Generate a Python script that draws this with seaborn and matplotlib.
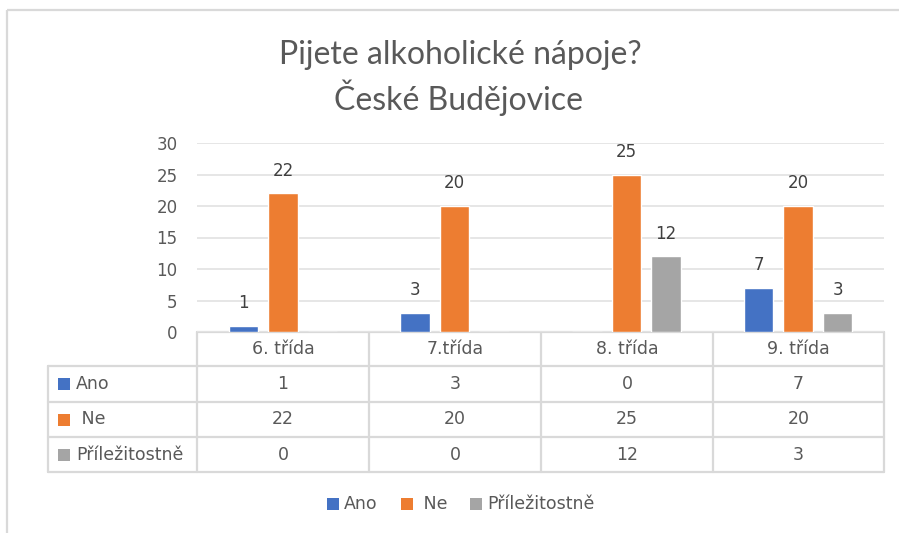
import matplotlib
matplotlib.use("Agg")
import matplotlib.pyplot as plt
import seaborn as sns
import pandas as pd
from matplotlib.patches import Rectangle

# ---- data ----
categories = ["6. třída", "7.třída", "8. třída", "9. třída"]
series_names = ["Ano", "Ne", "Příležitostně"]
series_labels = ["Ano", " Ne", "Příležitostně"]
ano = [1, 3, 0, 7]
ne = [22, 20, 25, 20]
prilezitostne = [0, 0, 12, 3]
yticks = [0, 5, 10, 15, 20, 25, 30]
title_lines = ["Pijete alkoholické nápoje?", "České Budějovice"]

colors = ["#4472C4", "#ED7D31", "#A5A5A5"]
GRID = "#D9D9D9"
GRID_LIGHT = "#E4E4E4"
TXT = "#595959"
LBL = "#404040"
TITLEF = ['Lato', 'DejaVu Sans']

sns.set_theme(style="white")
plt.rcParams['font.family'] = ['DejaVu Sans']

W, H = 899, 533
fig = plt.figure(figsize=(W / 100, H / 100), dpi=100)
fig.patch.set_facecolor("white")

values = {"Ano": ano, "Ne": ne, "Příležitostně": prilezitostne}
rows = []
for s in series_names:
    for i, c in enumerate(categories):
        rows.append((c, s, values[s][i]))
df = pd.DataFrame(rows, columns=["kat", "serie", "hodnota"])

def fx(px):
    return px / W

def fy(py):
    return 1 - py / H

# overlay axes in pixel coordinates for table, border, legend
ov = fig.add_axes([0, 0, 1, 1], zorder=0)
ov.set_xlim(0, W)
ov.set_ylim(H, 0)
ov.axis("off")

# main axes
ax_l, ax_r, ax_t, ax_b = 197, 884, 143, 332
ax = fig.add_axes([fx(ax_l), fy(ax_b), (ax_r - ax_l) / W, (ax_b - ax_t) / H], zorder=1)
ax.set_facecolor("none")
sns.barplot(data=df, x="kat", y="hodnota", hue="serie", hue_order=series_names,
            order=categories, palette=colors, width=0.69, gap=0.25, ax=ax,
            legend=False, saturation=1, errorbar=None, zorder=3)
ax.set_xlim(-0.5, len(categories) - 0.5)
ax.set_ylim(0, 30)
ax.set_yticks(yticks)
ax.yaxis.grid(True, color=GRID_LIGHT, lw=1.3, zorder=0)
ax.set_axisbelow(True)
for sp in ax.spines.values():
    sp.set_visible(False)
ax.set_xlabel("")
ax.set_ylabel("")
ax.set_xticks([])
ax.tick_params(axis="y", length=0, pad=14, labelsize=12, labelcolor=TXT)

for cont, s in zip(ax.containers, series_names):
    for bar, v in zip(cont, values[s]):
        if v > 0:
            ax.annotate(str(v), (bar.get_x() + bar.get_width() / 2, bar.get_height()),
                        xytext=(0, 10), textcoords="offset points", ha="center",
                        va="bottom", fontsize=12, color=LBL)

# chart border
ov.plot([7, 7], [10, H + 5], color=GRID, lw=1.6, solid_capstyle="butt")
ov.plot([7, W + 5], [10, 10], color=GRID, lw=1.6, solid_capstyle="butt")

# title
fig.text(fx(460), fy(64), title_lines[0], ha="center", va="baseline", fontsize=23,
         color=TXT, family=TITLEF)
fig.text(fx(459), fy(110), title_lines[1], ha="center", va="baseline", fontsize=23,
         color=TXT, family=TITLEF)

# data table
col_x = [197, 369, 541, 713, 884]
row_y = [332, 366, 402, 437, 472]
tab_left = 48
lw_t = 1.6
ov.plot([col_x[0], col_x[-1]], [row_y[0], row_y[0]], color=GRID, lw=lw_t)
for yy in row_y[1:]:
    ov.plot([tab_left, col_x[-1]], [yy, yy], color=GRID, lw=lw_t)
ov.plot([tab_left, tab_left], [row_y[1], row_y[-1]], color=GRID, lw=lw_t)
for xx in col_x:
    ov.plot([xx, xx], [row_y[0], row_y[-1]], color=GRID, lw=lw_t)

FS = 12.5
for i, c in enumerate(categories):
    cx = (col_x[i] + col_x[i + 1]) / 2
    ov.text(cx, (row_y[0] + row_y[1]) / 2, c, ha="center", va="center", fontsize=FS, color=TXT)
    for r, s in enumerate(series_names):
        cy = (row_y[r + 1] + row_y[r + 2]) / 2
        ov.text(cx, cy, str(values[s][i]), ha="center", va="center", fontsize=FS, color=TXT)

for r, (lab, col) in enumerate(zip(series_labels, colors)):
    cy = (row_y[r + 1] + row_y[r + 2]) / 2
    ov.add_patch(Rectangle((58, cy - 6), 12, 12, color=col, lw=0))
    ov.text(76, cy, lab, ha="left", va="center", fontsize=FS, color=TXT)

# bottom legend
leg_y = 504
leg_x = [327, 401, 470]
for lx, lab, col in zip(leg_x, series_labels, colors):
    ov.add_patch(Rectangle((lx, leg_y - 6), 12, 12, color=col, lw=0))
    ov.text(lx + 17, leg_y, lab, ha="left", va="center", fontsize=FS, color=TXT)

fig.savefig("out.png", dpi=100, facecolor="white")
